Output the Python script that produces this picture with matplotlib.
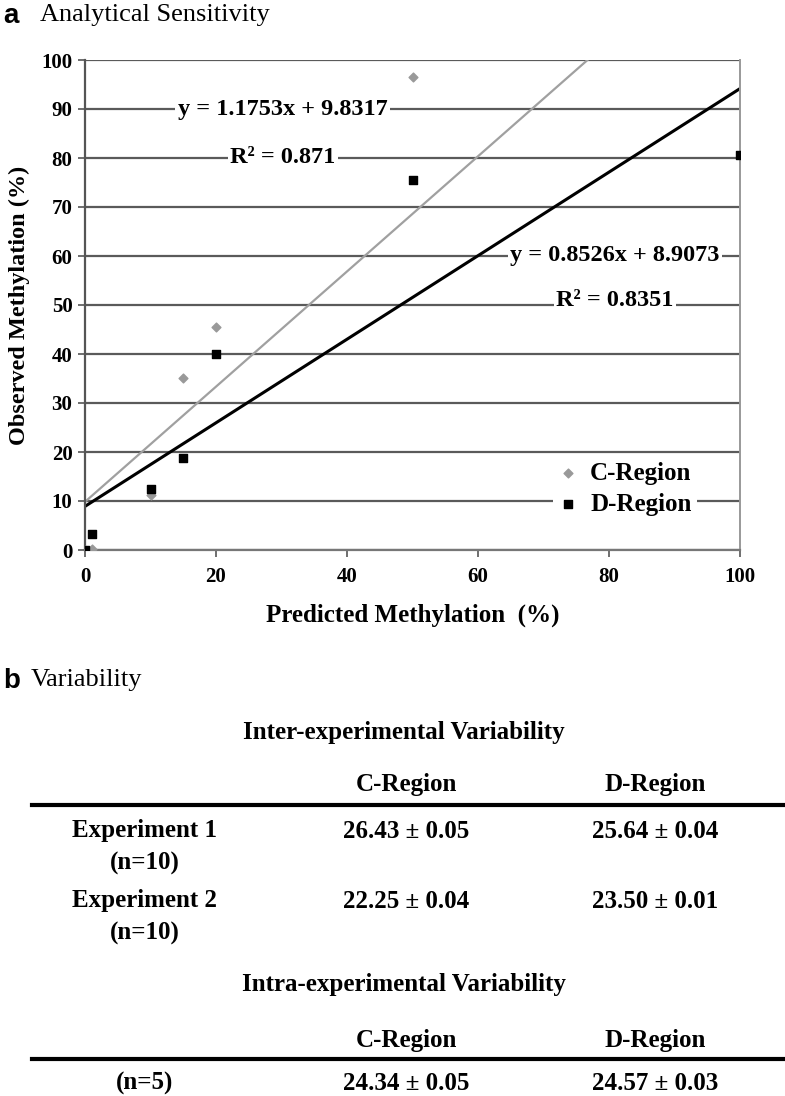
import numpy as np
import matplotlib
matplotlib.use("Agg")
from matplotlib import pyplot as plt
from matplotlib.lines import Line2D

plt.rcParams['font.family'] = ['Liberation Serif', 'DejaVu Serif']

# data
pred = [0, 1, 10, 15, 20, 50, 100]
c_region = [0, 0.3, 11.2, 35.2, 45.6, 96.5, 110.9]
d_region = [0, 3.2, 12.4, 18.7, 40.1, 75.5, 80.6]

c_slope, c_icpt, c_r2 = 1.1753, 9.8317, 0.871
d_slope, d_icpt, d_r2 = 0.8526, 8.9073, 0.8351

col_labels = ['C-Region', 'D-Region']
inter_rows = [('Experiment 1', '(n=10)'), ('Experiment 2', '(n=10)')]
inter_vals = [['26.43 \u00b1 0.05', '25.64 \u00b1 0.04'],
              ['22.25 \u00b1 0.04', '23.50 \u00b1 0.01']]
intra_rows = ['(n=5)']
intra_vals = [['24.34 \u00b1 0.05', '24.57 \u00b1 0.03']]

W, H = 785, 1096
fig = plt.figure(figsize=(W / 100, H / 100), dpi=100)

def fx(px):
    return px / W

def fy(py):
    return 1 - py / H

ax = fig.add_axes([fx(85), fy(550), fx(655), 490 / H])
ax.set_xlim(0, 100)
ax.set_ylim(0, 100)
ax.set_xticks(np.arange(0, 101, 20))
ax.set_yticks(np.arange(0, 101, 10))
ax.yaxis.grid(True, color='#5a5a5a', lw=1.6)
ax.set_axisbelow(True)
ax.spines['top'].set_visible(False)
ax.spines['left'].set_color('#555555')
ax.spines['left'].set_linewidth(1.6)
ax.spines['bottom'].set_color('#777777')
ax.spines['bottom'].set_linewidth(1.6)
ax.spines['right'].set_color('#999999')
ax.spines['right'].set_linewidth(1.4)
ax.tick_params(axis='both', direction='out', length=5, width=1.2, colors='#555555',
               labelcolor='black', labelsize=15)
for lab in ax.get_xticklabels() + ax.get_yticklabels():
    lab.set_fontweight('bold')
ax.tick_params(axis='x', pad=7)
ax.tick_params(axis='y', pad=4)

# trendlines from the fitted coefficients
xs = np.array([0, 100])
ax.plot(xs, c_slope * xs + c_icpt, color='#a0a0a0', lw=1.6, zorder=2)
ax.plot(xs, d_slope * xs + d_icpt, color='black', lw=2.2, zorder=2)

ax.scatter(pred, c_region, marker='D', s=20, color='#999999', zorder=3, label='C-Region')
ax.scatter(pred, d_region, marker='s', s=36, color='black', zorder=4, label='D-Region')

box = dict(facecolor='white', edgecolor='none', pad=2)
eq_kw = dict(ha='center', va='center', fontsize=17.5, fontweight='bold', bbox=box, zorder=5)
ax.text(30.2, 89.8, 'y = %.4fx + %.4f' % (c_slope, c_icpt), **eq_kw)
ax.text(30.2, 80.2, 'R\u00b2 = %.3f' % c_r2, **eq_kw)
ax.text(80.9, 60.2, 'y = %.4fx + %.4f' % (d_slope, d_icpt), **eq_kw)
ax.text(80.9, 51.0, 'R\u00b2 = %.4f' % d_r2, **eq_kw)

leg = ax.legend(loc='center left', bbox_to_anchor=(0.695, 0.125), frameon=True,
                prop={'size': 18, 'weight': 'bold'}, handlelength=0.8,
                handletextpad=0.5, labelspacing=0.3, borderpad=0.2)
leg.get_frame().set_facecolor('white')
leg.get_frame().set_edgecolor('none')
leg.get_frame().set_alpha(1)

ax.set_ylabel('Observed Methylation (%)', fontsize=17.5, fontweight='bold', labelpad=8)
ax.set_xlabel('Predicted Methylation  (%)', fontsize=18, fontweight='bold', labelpad=12)

# panel titles
fig.text(fx(3), fy(16), 'a', fontsize=20, fontweight='bold', family='Liberation Sans', va='center')
fig.text(fx(40), fy(15), 'Analytical Sensitivity', fontsize=19, va='center')
fig.text(fx(3), fy(681), 'b', fontsize=20, fontweight='bold', family='Liberation Sans', va='center')
fig.text(fx(31), fy(680), 'Variability', fontsize=19, va='center')

# table part
col_x = [406, 655]
row_x = 145

def rule(py):
    fig.add_artist(Line2D([fx(32), fx(785)], [fy(py), fy(py)], color='black', lw=3))

def ctext(px, py, s, size=18):
    fig.text(fx(px), fy(py), s, ha='center', va='center', fontsize=size, fontweight='bold')

ctext(404, 733, 'Inter-experimental Variability')
for cx, lab in zip(col_x, col_labels):
    ctext(cx, 785, lab)
rule(805)
for i, (r1, r2) in enumerate(inter_rows):
    y0 = 831 + i * 70
    ctext(row_x, y0, r1)
    ctext(row_x, y0 + 32, r2)
    for cx, v in zip(col_x, inter_vals[i]):
        ctext(cx, y0, v)

ctext(404, 985, 'Intra-experimental Variability')
for cx, lab in zip(col_x, col_labels):
    ctext(cx, 1040, lab)
rule(1059)
for i, r in enumerate(intra_rows):
    ctext(row_x, 1083, r)
    for cx, v in zip(col_x, intra_vals[i]):
        ctext(cx, 1083, v)

fig.savefig('out.png', dpi=100)
